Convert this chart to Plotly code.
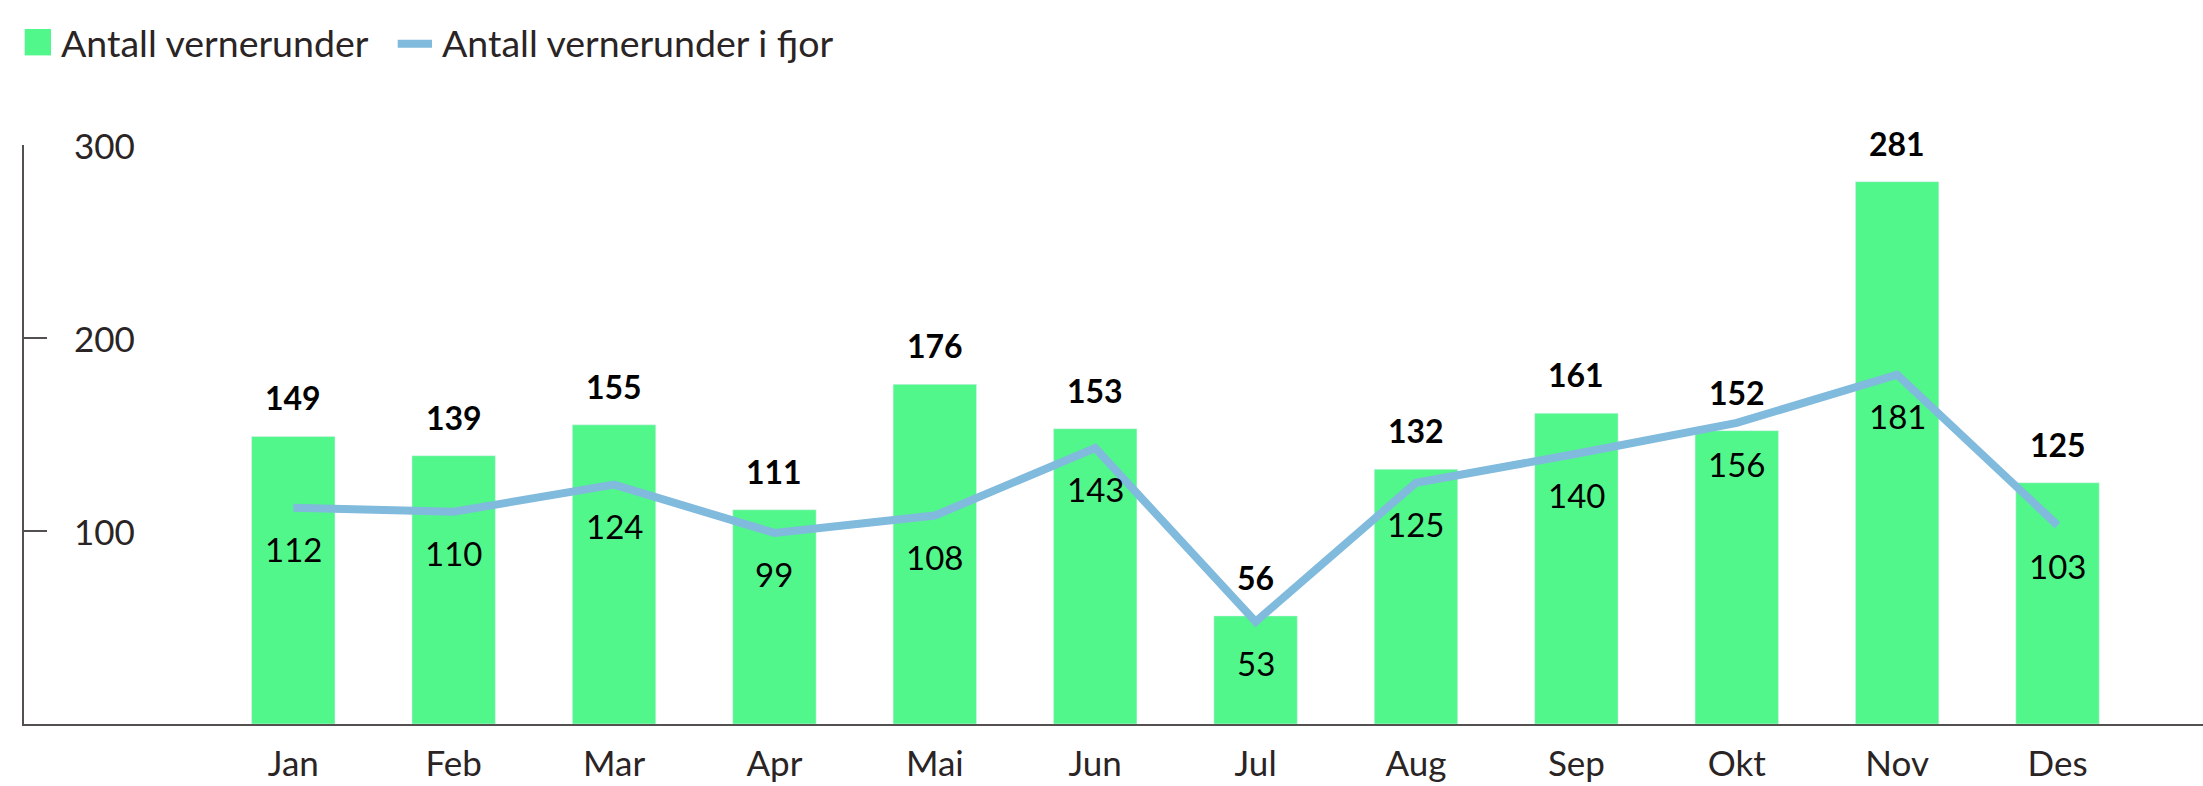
import plotly.graph_objects as go

months = ["Jan", "Feb", "Mar", "Apr", "Mai", "Jun", "Jul", "Aug", "Sep", "Okt", "Nov", "Des"]
current = [149, 139, 155, 111, 176, 153, 56, 132, 161, 152, 281, 125]
last_year = [112, 110, 124, 99, 108, 143, 53, 125, 140, 156, 181, 103]
y_ticks = [100, 200, 300]

W, H = 2203, 786
PLOT_LEFT, PLOT_TOP, PLOT_BOTTOM = 24, 145.3, 724.3
L, R, T, B = PLOT_LEFT, 0, PLOT_TOP, H - PLOT_BOTTOM
PW, PH = W - L - R, H - T - B

GREEN = "#52F78B"
BLUE = "#80BADC"
TXT = "#2A2425"
AXIS = "#555050"
FONT = "Lato"

def px_x(px):
    return (px - L) / PW

def px_y(py):
    return (PLOT_BOTTOM - py) / PH

fig = go.Figure()
fig.add_trace(go.Bar(x=months, y=current, marker_color=GREEN, width=0.52,
                     name="Antall vernerunder", hoverinfo="x+y"))
fig.add_trace(go.Scatter(x=months, y=last_year, mode="lines",
                         line=dict(color=BLUE, width=8),
                         name="Antall vernerunder i fjor"))

annotations = []
for m, v in zip(months, current):
    annotations.append(dict(x=m, y=v, xref="x", yref="y", text=f"<b>{v}</b>",
                            showarrow=False, yanchor="bottom", yshift=17,
                            font=dict(family=FONT, size=32, color="#000000")))
for m, v in zip(months, last_year):
    annotations.append(dict(x=m, y=v, xref="x", yref="y", text=str(v),
                            showarrow=False, yanchor="top", yshift=-19,
                            font=dict(family=FONT, size=33, color="#000000")))

# y tick labels (right of the axis, inside the plot)
for t in y_ticks:
    annotations.append(dict(x=px_x(72), y=t, xref="paper", yref="y", text=str(t),
                            showarrow=False, xanchor="left", yanchor="middle",
                            font=dict(family=FONT, size=35, color=TXT)))

# legend (custom)
annotations.append(dict(x=px_x(59), y=px_y(42.5), xref="paper", yref="paper",
                        text="Antall vernerunder", showarrow=False,
                        xanchor="left", yanchor="middle",
                        font=dict(family=FONT, size=37.5, color=TXT)))
annotations.append(dict(x=px_x(439.7), y=px_y(42.5), xref="paper", yref="paper",
                        text="Antall vernerunder i fjor", showarrow=False,
                        xanchor="left", yanchor="middle",
                        font=dict(family=FONT, size=37.5, color=TXT)))
shapes = [
    dict(type="rect", xref="paper", yref="paper",
         x0=px_x(24.7), x1=px_x(51), y0=px_y(55.7), y1=px_y(29.3),
         fillcolor=GREEN, line=dict(width=0)),
    dict(type="line", xref="paper", yref="paper",
         x0=px_x(397.7), x1=px_x(432), y0=px_y(44), y1=px_y(44),
         line=dict(color=BLUE, width=8)),
]

fig.update_layout(
    width=W, height=H,
    margin=dict(l=L, r=R, t=T, b=B, autoexpand=False),
    plot_bgcolor="white", paper_bgcolor="white",
    showlegend=False,
    annotations=annotations,
    shapes=shapes,
    font=dict(family=FONT, color=TXT),
    xaxis=dict(range=[-1.679, 11.907], showline=True, linecolor=AXIS, linewidth=1.5,
               ticks="", showgrid=False, zeroline=False,
               tickfont=dict(family=FONT, size=35, color=TXT), ticklabelstandoff=8),
    yaxis=dict(range=[0, 300], tickvals=y_ticks, showline=True, linecolor=AXIS, linewidth=1.5,
               ticks="inside", ticklen=23, tickcolor=AXIS, tickwidth=1.5,
               showticklabels=False,
               showgrid=False, zeroline=False),
)

fig.write_html("out.html",
               config={"displayModeBar": False},
               post_script="document.body.style.margin='0';document.body.style.overflow='hidden';")
